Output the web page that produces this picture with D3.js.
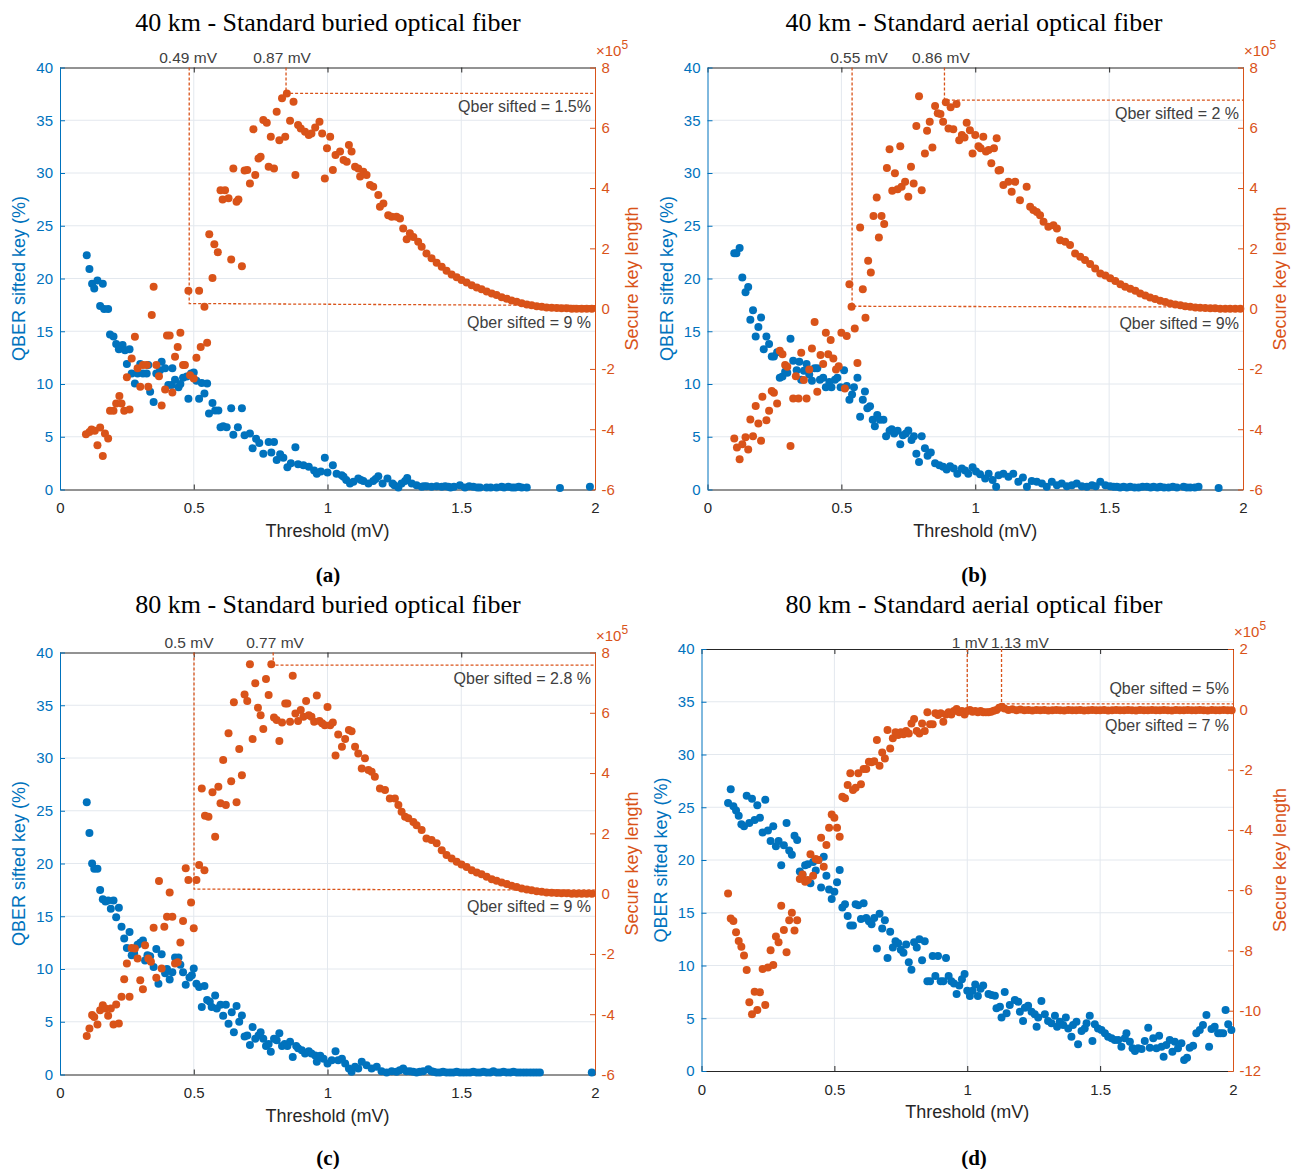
<!DOCTYPE html>
<html lang="en">
<head>
  <meta charset="UTF-8">
  <title>QBER and secure key length vs threshold</title>
  <script src="https://d3js.org/d3.v7.min.js"></script>
  <style>
      body { margin: 0; background: #fff; }
      svg { display: block; }
  </style>
</head>
<body>
<script>
  const blue = "#0072BD", orange = "#D95319", ink = "#262626", note = "#404040", gridCol = "#e3e8ee";
  const sans = "'Liberation Sans', Arial, Helvetica, sans-serif";
  const serif = "'Liberation Serif', 'Times New Roman', serif";

  const titles = [
    "40 km - Standard buried optical fiber",
    "40 km - Standard aerial optical fiber",
    "80 km - Standard buried optical fiber",
    "80 km - Standard aerial optical fiber"
  ];
  const captions = ["(a)", "(b)", "(c)", "(d)"];

  const xTicks = [0, 0.5, 1, 1.5, 2];
  const qberTicks = [0, 5, 10, 15, 20, 25, 30, 35, 40];
  const keyTicks40 = [-6, -4, -2, 0, 2, 4, 6, 8];
  const keyTicksD = [-12, -10, -8, -6, -4, -2, 0, 2];

  // [threshold mV, QBER %]
  const qberA = [[0.10,22.2],[0.11,20.9],[0.12,19.5],[0.128,19.05],[0.14,19.8],[0.16,19.5],[0.15,17.4],[0.165,17.1],[0.18,17.1],[0.187,14.7],[0.20,14.5],[0.21,13.8],[0.22,13.3],[0.234,13.7],[0.243,13.2],[0.26,13.3],[0.25,11.9],[0.268,11.0],[0.28,10.05],[0.29,11.0],[0.30,11.9],[0.31,11.0],[0.324,11.0],[0.33,11.8],[0.337,9.26],[0.35,8.3],[0.36,11.0],[0.374,11.3],[0.38,12.1],[0.393,11.5],[0.405,9.9],[0.418,9.9],[0.42,11.5],[0.43,10.4],[0.443,9.7],[0.45,10.0],[0.46,10.6],[0.474,10.7],[0.48,8.6],[0.49,11.0],[0.50,11.1],[0.51,10.3],[0.52,8.6],[0.53,10.1],[0.54,9.1],[0.55,10.05],[0.557,7.2],[0.57,8.2],[0.58,7.5],[0.592,7.5],[0.60,5.9],[0.61,6.0],[0.623,5.9],[0.64,7.7],[0.648,5.2],[0.665,5.9],[0.68,7.7],[0.69,5.15],[0.71,5.3],[0.72,3.9],[0.733,4.8],[0.745,4.4],[0.76,3.4],[0.78,4.5],[0.79,3.5],[0.80,4.5],[0.81,2.8],[0.823,3.35],[0.835,3.0],[0.85,2.1],[0.863,2.5],[0.88,4.0],[0.89,2.4],[0.91,2.3],[0.93,2.15],[0.95,1.8],[0.96,1.5],[0.975,1.7],[0.99,3.0],[1.0,1.6],[1.02,2.3],[1.034,1.5],[1.053,1.35],[1.06,1.2],[1.07,0.9],[1.084,0.57],[1.097,0.73],[1.115,1.04],[1.125,0.9],[1.134,0.8],[1.153,0.57],[1.171,0.8],[1.18,1.0],[1.19,1.26],[1.206,0.57],[1.224,1.04],[1.243,0.57],[1.25,0.4],[1.265,0.2],[1.277,0.57],[1.29,0.8],[1.298,1.1],[1.315,0.57],[1.333,0.4],[1.352,0.25],[1.36,0.3],[1.37,0.3],[1.389,0.25],[1.408,0.3],[1.427,0.25],[1.44,0.3],[1.452,0.25],[1.46,0.2],[1.473,0.25],[1.495,0.4],[1.514,0.2],[1.53,0.3],[1.545,0.25],[1.56,0.2],[1.57,0.2],[1.595,0.2],[1.61,0.2],[1.632,0.2],[1.651,0.25],[1.66,0.2],[1.676,0.25],[1.69,0.2],[1.701,0.2],[1.715,0.25],[1.726,0.2],[1.745,0.2],[1.869,0.15],[1.981,0.25]];

  // [threshold mV, secure key length x1e5]
  const keyA = [[0.097,-4.17],[0.11,-4.09],[0.118,-4.01],[0.13,-4.05],[0.14,-4.53],[0.15,-3.94],[0.16,-4.89],[0.168,-4.14],[0.18,-4.31],[0.187,-3.39],[0.20,-3.39],[0.21,-3.15],[0.222,-2.90],[0.23,-3.15],[0.24,-3.39],[0.26,-3.35],[0.25,-2.28],[0.268,-1.65],[0.28,-0.93],[0.29,-1.98],[0.30,-2.59],[0.31,-1.87],[0.324,-1.87],[0.33,-2.59],[0.343,-0.21],[0.35,0.73],[0.36,-1.87],[0.37,-2.24],[0.38,-3.21],[0.393,-2.68],[0.40,-0.89],[0.41,-0.89],[0.42,-2.78],[0.43,-1.60],[0.44,-1.27],[0.45,-0.80],[0.46,-1.87],[0.467,-1.87],[0.486,-2.21],[0.50,-2.32],[0.51,-1.63],[0.526,-1.27],[0.55,-1.13],[0.48,0.59],[0.52,0.59],[0.54,0.06],[0.57,1.02],[0.558,2.47],[0.577,2.14],[0.59,1.87],[0.64,1.63],[0.68,1.41],[0.60,3.93],[0.617,3.93],[0.608,3.62],[0.63,3.66],[0.66,3.55],[0.667,3.62],[0.648,4.65],[0.69,4.58],[0.70,4.60],[0.71,4.15],[0.73,4.43],[0.742,4.98],[0.75,5.04],[0.723,5.95],[0.76,6.26],[0.773,6.17],[0.78,4.71],[0.80,4.65],[0.788,5.70],[0.81,6.53],[0.82,5.59],[0.842,5.70],[0.83,6.98],[0.848,7.14],[0.873,6.86],[0.86,6.23],[0.88,4.43],[0.89,6.09],[0.90,5.98],[0.916,5.87],[0.93,5.76],[0.94,5.81],[0.954,6.01],[0.97,6.20],[0.98,5.81],[0.99,4.32],[0.998,5.32],[1.01,5.70],[1.02,4.60],[1.03,5.10],[1.047,5.21],[1.06,4.93],[1.072,4.87],[1.08,5.43],[1.09,5.21],[1.103,4.71],[1.115,4.65],[1.122,4.38],[1.134,4.54],[1.146,4.43],[1.159,4.10],[1.171,4.04],[1.19,3.77],[1.196,3.38],[1.209,3.49],[1.227,3.10],[1.24,3.05],[1.258,3.05],[1.271,2.99],[1.283,2.66],[1.296,2.30],[1.308,2.50],[1.321,2.38],[1.339,2.22],[1.352,2.05],[1.37,1.83],[1.389,1.67],[1.408,1.52],[1.427,1.39],[1.445,1.26],[1.464,1.13],[1.483,1.04],[1.501,0.95],[1.52,0.87],[1.539,0.78],[1.558,0.70],[1.576,0.64],[1.595,0.57],[1.614,0.50],[1.632,0.45],[1.651,0.38],[1.67,0.33],[1.688,0.27],[1.707,0.23],[1.726,0.18],[1.745,0.14],[1.763,0.11],[1.782,0.08],[1.801,0.06],[1.819,0.04],[1.838,0.03],[1.857,0.02],[1.875,0.01],[1.894,0.01],[1.913,0],[1.931,0],[1.95,0],[1.969,0],[1.988,0]];

  const qberB = [[0.10,22.4],[0.108,22.4],[0.12,22.9],[0.13,20.1],[0.142,18.7],[0.152,19.2],[0.16,16.1],[0.17,17.0],[0.18,14.5],[0.19,15.4],[0.20,16.3],[0.21,13.3],[0.22,14.5],[0.23,13.8],[0.24,12.6],[0.248,12.6],[0.26,13.0],[0.27,10.6],[0.28,10.7],[0.29,11.15],[0.298,11.06],[0.31,14.3],[0.32,12.2],[0.333,11.3],[0.343,12.1],[0.35,10.4],[0.36,11.25],[0.37,11.9],[0.38,10.9],[0.39,10.3],[0.40,11.5],[0.41,11.5],[0.42,10.4],[0.432,10.6],[0.442,9.7],[0.455,10.2],[0.463,9.7],[0.476,10.4],[0.485,10.6],[0.497,9.7],[0.51,11.3],[0.52,9.8],[0.53,8.5],[0.54,9.0],[0.547,9.7],[0.56,10.6],[0.57,6.9],[0.58,8.5],[0.588,9.3],[0.597,7.7],[0.607,7.9],[0.617,6.6],[0.625,6.0],[0.634,7.05],[0.644,6.6],[0.657,6.6],[0.667,5.05],[0.68,5.56],[0.688,5.7],[0.697,5.3],[0.71,5.56],[0.72,4.3],[0.73,5.15],[0.741,5.3],[0.75,5.6],[0.762,4.7],[0.771,5.05],[0.78,3.4],[0.79,2.6],[0.80,5.05],[0.812,3.9],[0.822,3.2],[0.834,3.5],[0.85,2.5],[0.866,2.3],[0.88,2.15],[0.893,1.9],[0.906,2.2],[0.92,2.0],[0.933,1.5],[0.95,2.0],[0.962,1.8],[0.974,1.5],[0.99,2.1],[1.003,1.7],[1.018,1.45],[1.037,1.04],[1.05,1.5],[1.065,0.9],[1.078,0.25],[1.087,1.35],[1.105,1.5],[1.124,1.2],[1.142,1.5],[1.161,0.73],[1.178,1.14],[1.193,0.25],[1.211,0.8],[1.23,0.73],[1.249,0.57],[1.267,0.25],[1.286,0.73],[1.305,0.4],[1.323,0.57],[1.342,0.3],[1.361,0.4],[1.379,0.57],[1.398,0.3],[1.417,0.25],[1.436,0.4],[1.45,0.3],[1.467,0.73],[1.486,0.4],[1.504,0.3],[1.517,0.25],[1.529,0.25],[1.541,0.2],[1.554,0.25],[1.566,0.2],[1.579,0.25],[1.595,0.2],[1.61,0.2],[1.625,0.25],[1.641,0.25],[1.655,0.2],[1.666,0.25],[1.68,0.2],[1.691,0.25],[1.705,0.2],[1.722,0.2],[1.738,0.25],[1.753,0.2],[1.778,0.25],[1.79,0.2],[1.803,0.2],[1.82,0.2],[1.834,0.25],[1.909,0.15]];

  const keyB = [[0.10,-4.31],[0.11,-4.61],[0.12,-5.0],[0.13,-4.5],[0.142,-4.27],[0.152,-4.67],[0.17,-4.23],[0.20,-4.38],[0.16,-3.68],[0.18,-3.23],[0.19,-3.81],[0.205,-2.92],[0.22,-3.70],[0.23,-3.39],[0.24,-2.73],[0.248,-2.79],[0.26,-3.15],[0.27,-1.40],[0.28,-1.51],[0.29,-1.87],[0.298,-1.93],[0.31,-4.56],[0.32,-2.98],[0.33,-2.24],[0.34,-2.98],[0.35,-1.46],[0.36,-2.37],[0.37,-2.98],[0.38,-2.02],[0.39,-1.32],[0.40,-0.44],[0.41,-2.76],[0.422,-1.54],[0.432,-1.84],[0.442,-0.80],[0.451,-1.51],[0.46,-1.04],[0.47,-1.65],[0.48,-2.02],[0.49,-1.91],[0.50,-0.80],[0.513,-2.65],[0.52,-0.91],[0.538,0.06],[0.53,0.81],[0.55,-0.66],[0.56,-1.80],[0.57,2.69],[0.58,0.64],[0.59,-0.30],[0.60,1.59],[0.61,1.20],[0.62,3.07],[0.632,3.69],[0.64,2.36],[0.65,3.07],[0.66,2.81],[0.67,4.67],[0.68,5.29],[0.69,3.91],[0.70,4.49],[0.71,3.96],[0.72,5.39],[0.725,4.04],[0.738,4.21],[0.75,3.71],[0.76,4.71],[0.77,4.15],[0.78,6.06],[0.79,7.05],[0.80,3.93],[0.812,5.15],[0.82,5.90],[0.83,6.20],[0.84,5.35],[0.85,6.72],[0.86,6.48],[0.87,6.46],[0.88,6.20],[0.89,6.85],[0.90,5.98],[0.908,6.68],[0.918,5.95],[0.93,6.79],[0.94,5.59],[0.95,5.76],[0.96,5.68],[0.968,6.17],[0.98,5.92],[0.99,5.15],[1.0,5.76],[1.012,5.39],[1.02,5.32],[1.03,5.70],[1.04,5.21],[1.05,5.26],[1.06,4.82],[1.07,5.32],[1.08,5.65],[1.087,4.58],[1.093,4.60],[1.105,4.10],[1.124,4.21],[1.136,3.88],[1.149,4.21],[1.167,3.60],[1.192,4.04],[1.205,3.38],[1.217,3.27],[1.23,3.21],[1.242,3.10],[1.255,2.88],[1.273,2.72],[1.292,2.77],[1.305,2.66],[1.317,2.27],[1.336,2.22],[1.354,2.11],[1.373,1.83],[1.392,1.72],[1.41,1.61],[1.429,1.48],[1.448,1.33],[1.467,1.17],[1.486,1.10],[1.504,1.01],[1.523,0.92],[1.542,0.81],[1.56,0.73],[1.579,0.66],[1.598,0.59],[1.616,0.50],[1.635,0.44],[1.653,0.37],[1.672,0.32],[1.691,0.26],[1.71,0.22],[1.728,0.17],[1.747,0.14],[1.766,0.11],[1.784,0.08],[1.803,0.06],[1.822,0.04],[1.84,0.03],[1.859,0.02],[1.878,0.01],[1.896,0.01],[1.915,0],[1.934,0],[1.952,0],[1.971,0],[1.99,0]];

  const qberC = [[0.10,25.8],[0.11,22.9],[0.12,20.0],[0.128,19.5],[0.14,19.5],[0.15,17.5],[0.16,16.6],[0.17,16.4],[0.18,16.5],[0.19,15.7],[0.20,16.5],[0.21,14.9],[0.22,15.8],[0.23,14.0],[0.24,12.9],[0.25,12.0],[0.26,13.5],[0.268,11.3],[0.277,11.5],[0.29,12.3],[0.30,12.5],[0.31,12.7],[0.318,10.8],[0.327,11.3],[0.337,11.2],[0.35,10.2],[0.36,11.9],[0.368,8.6],[0.38,11.4],[0.393,9.6],[0.40,10.0],[0.41,9.0],[0.42,9.7],[0.43,11.1],[0.443,11.1],[0.45,10.4],[0.46,9.7],[0.47,8.5],[0.484,9.2],[0.493,9.4],[0.50,10.05],[0.51,8.6],[0.52,8.3],[0.54,8.4],[0.53,6.4],[0.55,7.05],[0.56,6.9],[0.58,7.5],[0.567,6.4],[0.586,6.25],[0.60,6.6],[0.61,5.56],[0.62,6.6],[0.63,4.8],[0.642,5.9],[0.65,4.0],[0.66,6.5],[0.67,5.0],[0.68,5.6],[0.69,3.6],[0.70,3.7],[0.71,2.8],[0.72,4.5],[0.73,3.4],[0.742,3.7],[0.75,4.0],[0.76,3.4],[0.77,2.7],[0.78,2.9],[0.788,2.15],[0.80,3.4],[0.81,3.25],[0.82,3.9],[0.83,2.7],[0.84,2.9],[0.85,2.7],[0.86,3.1],[0.87,1.67],[0.883,2.7],[0.89,2.5],[0.904,2.3],[0.916,2.0],[0.93,2.2],[0.94,2.0],[0.954,1.8],[0.96,1.2],[0.973,1.77],[0.985,1.5],[1.0,1.04],[1.016,1.35],[1.03,2.2],[1.04,1.35],[1.054,1.5],[1.066,1.04],[1.08,0.57],[1.09,0.25],[1.103,0.73],[1.115,0.57],[1.128,1.2],[1.146,0.88],[1.165,0.57],[1.184,0.73],[1.202,0.3],[1.221,0.2],[1.24,0.3],[1.258,0.25],[1.27,0.4],[1.283,0.57],[1.295,0.3],[1.308,0.3],[1.32,0.25],[1.333,0.2],[1.345,0.25],[1.358,0.3],[1.377,0.5],[1.388,0.3],[1.396,0.25],[1.408,0.2],[1.42,0.2],[1.432,0.25],[1.445,0.2],[1.458,0.2],[1.47,0.2],[1.483,0.25],[1.495,0.2],[1.508,0.2],[1.52,0.2],[1.533,0.2],[1.545,0.25],[1.558,0.2],[1.57,0.2],[1.583,0.25],[1.595,0.2],[1.608,0.2],[1.62,0.3],[1.633,0.2],[1.645,0.2],[1.658,0.25],[1.67,0.2],[1.683,0.2],[1.695,0.25],[1.708,0.2],[1.72,0.2],[1.733,0.2],[1.745,0.2],[1.758,0.2],[1.77,0.2],[1.782,0.2],[1.794,0.2],[1.988,0.2]];

  const keyC = [[0.10,-4.72],[0.11,-4.47],[0.12,-4.03],[0.128,-4.09],[0.14,-4.34],[0.15,-3.87],[0.16,-3.70],[0.17,-3.81],[0.18,-4.05],[0.19,-3.81],[0.20,-4.34],[0.21,-3.68],[0.22,-4.31],[0.23,-3.42],[0.24,-2.84],[0.25,-2.32],[0.26,-3.42],[0.268,-1.80],[0.28,-1.82],[0.29,-2.15],[0.30,-2.87],[0.31,-3.17],[0.318,-1.71],[0.33,-2.15],[0.34,-2.26],[0.35,-1.13],[0.36,-2.79],[0.37,0.42],[0.38,-2.48],[0.39,-1.10],[0.40,-0.77],[0.41,0.04],[0.42,-0.77],[0.43,-2.32],[0.44,-2.28],[0.45,-1.62],[0.46,-0.91],[0.47,0.84],[0.48,0.45],[0.49,-0.29],[0.50,-1.15],[0.51,0.45],[0.52,0.95],[0.54,0.78],[0.53,3.49],[0.542,2.58],[0.555,2.55],[0.57,3.36],[0.58,1.89],[0.592,3.55],[0.60,3.0],[0.61,4.43],[0.62,2.94],[0.63,5.32],[0.64,3.73],[0.65,6.35],[0.66,3.03],[0.67,4.80],[0.68,3.93],[0.69,6.61],[0.70,6.39],[0.71,7.61],[0.72,5.13],[0.73,6.98],[0.74,6.17],[0.75,5.92],[0.76,5.46],[0.77,7.12],[0.78,6.59],[0.79,7.61],[0.80,5.84],[0.81,5.76],[0.82,5.06],[0.83,5.68],[0.842,6.31],[0.85,6.31],[0.86,5.70],[0.87,7.23],[0.88,5.98],[0.89,5.73],[0.90,6.09],[0.91,5.87],[0.92,6.39],[0.93,5.92],[0.94,5.87],[0.95,5.70],[0.96,6.57],[0.97,5.73],[0.98,5.65],[0.99,5.59],[1.0,6.19],[1.01,5.59],[1.02,5.68],[1.03,4.58],[1.04,5.28],[1.054,4.87],[1.066,5.13],[1.08,5.43],[1.09,5.39],[1.103,4.87],[1.115,4.65],[1.128,4.15],[1.14,4.49],[1.153,4.10],[1.165,4.04],[1.177,3.88],[1.196,3.49],[1.215,3.44],[1.233,3.16],[1.252,3.16],[1.265,2.94],[1.277,2.72],[1.29,2.55],[1.302,2.50],[1.321,2.38],[1.333,2.27],[1.352,2.11],[1.37,1.83],[1.389,1.78],[1.408,1.67],[1.427,1.44],[1.445,1.28],[1.464,1.17],[1.483,1.06],[1.501,0.97],[1.52,0.88],[1.539,0.78],[1.558,0.70],[1.576,0.64],[1.595,0.56],[1.614,0.48],[1.632,0.43],[1.651,0.37],[1.67,0.32],[1.688,0.26],[1.707,0.22],[1.726,0.17],[1.745,0.14],[1.763,0.11],[1.782,0.08],[1.801,0.06],[1.819,0.04],[1.838,0.03],[1.857,0.02],[1.875,0.01],[1.894,0.01],[1.913,0],[1.931,0],[1.95,0],[1.969,0],[1.988,0]];

  const qberD = [[0.10,25.4],[0.11,26.7],[0.12,25.1],[0.13,24.7],[0.14,24.2],[0.15,23.4],[0.16,23.2],[0.17,26.1],[0.18,23.5],[0.19,25.8],[0.20,23.8],[0.21,25.2],[0.22,24.0],[0.23,22.6],[0.24,25.7],[0.25,22.8],[0.26,21.8],[0.27,23.2],[0.28,21.3],[0.29,21.8],[0.30,19.5],[0.31,21.4],[0.32,23.5],[0.33,20.9],[0.34,20.5],[0.35,22.3],[0.36,21.9],[0.37,18.9],[0.38,18.6],[0.39,19.5],[0.40,19.6],[0.41,17.8],[0.42,19.8],[0.43,19.0],[0.44,20.0],[0.45,17.4],[0.46,20.3],[0.47,18.5],[0.48,17.2],[0.49,16.3],[0.50,17.0],[0.51,17.9],[0.52,19.05],[0.53,15.5],[0.54,15.8],[0.55,14.7],[0.56,13.8],[0.57,13.8],[0.58,15.8],[0.59,15.7],[0.60,14.4],[0.61,15.9],[0.62,14.5],[0.63,14.2],[0.64,13.9],[0.65,14.5],[0.66,11.6],[0.67,14.9],[0.68,13.5],[0.69,14.3],[0.70,10.7],[0.71,13.2],[0.72,11.7],[0.73,12.3],[0.74,12.1],[0.75,11.5],[0.76,11.2],[0.77,12.0],[0.78,10.3],[0.79,9.6],[0.80,12.2],[0.81,11.7],[0.82,12.5],[0.83,10.5],[0.84,12.3],[0.85,8.5],[0.86,8.5],[0.87,10.9],[0.88,9.0],[0.89,10.9],[0.90,8.5],[0.91,8.5],[0.92,10.7],[0.93,9.0],[0.94,8.5],[0.95,8.3],[0.96,7.3],[0.97,8.1],[0.98,8.7],[0.99,9.2],[1.0,7.6],[1.01,7.1],[1.02,7.6],[1.03,8.2],[1.04,7.1],[1.05,7.8],[1.06,8.1],[1.08,7.3],[1.091,7.2],[1.104,7.14],[1.11,5.94],[1.123,6.1],[1.129,5.06],[1.141,7.5],[1.148,5.47],[1.16,6.26],[1.179,6.73],[1.192,6.57],[1.198,5.62],[1.21,4.74],[1.217,6.0],[1.229,6.19],[1.242,5.62],[1.254,5.37],[1.261,4.2],[1.267,5.06],[1.279,6.63],[1.292,5.37],[1.304,4.74],[1.317,4.52],[1.33,5.24],[1.338,4.2],[1.348,4.68],[1.361,4.36],[1.371,5.06],[1.38,4.04],[1.392,3.25],[1.398,4.36],[1.411,4.68],[1.417,2.53],[1.43,3.79],[1.442,4.04],[1.449,4.52],[1.461,5.24],[1.471,2.84],[1.48,4.42],[1.492,4.04],[1.505,3.89],[1.518,3.57],[1.53,3.25],[1.543,3.1],[1.555,2.94],[1.568,2.94],[1.58,2.31],[1.593,3.1],[1.599,3.57],[1.612,2.78],[1.622,2.15],[1.631,1.9],[1.643,2.15],[1.656,2.09],[1.668,2.84],[1.681,4.11],[1.687,2.21],[1.7,3.1],[1.712,2.15],[1.722,3.35],[1.731,2.31],[1.739,1.36],[1.749,2.46],[1.762,2.94],[1.772,1.83],[1.781,2.78],[1.793,2.15],[1.806,2.62],[1.816,1.04],[1.827,1.26],[1.837,2.21],[1.85,2.4],[1.862,3.57],[1.875,3.89],[1.887,4.36],[1.9,5.31],[1.91,2.31],[1.919,3.98],[1.931,4.2],[1.944,3.57],[1.953,3.57],[1.963,3.57],[1.972,5.78],[1.982,4.42],[1.994,3.89]];

  const keyD = [[0.10,-6.11],[0.11,-6.94],[0.12,-7.02],[0.13,-7.40],[0.14,-7.69],[0.15,-7.88],[0.16,-8.17],[0.17,-8.65],[0.18,-9.72],[0.19,-10.12],[0.20,-9.37],[0.21,-9.98],[0.22,-9.39],[0.23,-8.62],[0.24,-9.81],[0.25,-8.57],[0.26,-7.99],[0.27,-8.48],[0.28,-7.54],[0.29,-7.73],[0.30,-6.52],[0.31,-7.32],[0.32,-8.06],[0.33,-7.0],[0.34,-6.75],[0.35,-7.34],[0.36,-7.0],[0.37,-5.63],[0.38,-5.48],[0.39,-5.72],[0.40,-5.66],[0.41,-4.81],[0.42,-5.52],[0.43,-4.97],[0.44,-5.0],[0.45,-4.26],[0.46,-5.22],[0.47,-4.50],[0.48,-3.93],[0.49,-3.49],[0.50,-3.60],[0.51,-3.93],[0.52,-4.23],[0.53,-2.90],[0.54,-2.95],[0.55,-2.51],[0.56,-2.12],[0.57,-2.68],[0.58,-2.60],[0.59,-2.12],[0.60,-2.49],[0.61,-1.98],[0.62,-1.98],[0.63,-1.74],[0.64,-1.76],[0.65,-1.72],[0.66,-1.02],[0.67,-1.87],[0.68,-1.43],[0.69,-1.63],[0.70,-0.69],[0.71,-1.30],[0.72,-0.96],[0.73,-0.76],[0.74,-0.85],[0.75,-0.76],[0.76,-0.83],[0.77,-0.72],[0.78,-0.80],[0.79,-0.47],[0.80,-0.32],[0.81,-0.72],[0.82,-0.80],[0.83,-0.47],[0.84,-0.72],[0.85,-0.10],[0.86,-0.50],[0.87,-0.50],[0.88,-0.13],[0.89,-0.19],[0.90,-0.13],[0.91,-0.41],[0.92,-0.17],[0.93,-0.10],[0.94,-0.17],[0.95,-0.06],[0.96,0.01],[0.97,-0.10],[0.98,-0.06],[0.99,-0.17],[1.00,-0.06],[1.01,-0.02],[1.02,-0.08],[1.03,-0.06],[1.04,-0.10],[1.05,-0.06],[1.06,-0.10],[1.07,-0.10],[1.08,-0.10],[1.09,-0.08],[1.10,-0.05],[1.11,-0.02],[1.12,0.05],[1.13,0.08],[1.14,0.03],[1.155,-0.02],[1.17,0.0],[1.185,-0.03],[1.2,-0.01],[1.215,-0.03],[1.23,-0.02],[1.245,-0.04],[1.26,-0.02],[1.275,-0.03],[1.29,-0.02],[1.305,-0.04],[1.32,-0.03],[1.335,-0.02],[1.35,-0.03],[1.365,-0.04],[1.38,-0.02],[1.395,-0.03],[1.41,-0.03],[1.425,-0.02],[1.44,-0.04],[1.455,-0.03],[1.47,-0.02],[1.485,-0.03],[1.5,-0.03],[1.515,-0.02],[1.53,-0.04],[1.545,-0.03],[1.56,-0.02],[1.575,-0.03],[1.59,-0.03],[1.605,-0.02],[1.62,-0.03],[1.635,-0.04],[1.65,-0.02],[1.665,-0.03],[1.68,-0.03],[1.695,-0.02],[1.71,-0.03],[1.725,-0.03],[1.74,-0.02],[1.755,-0.03],[1.77,-0.04],[1.785,-0.02],[1.8,-0.03],[1.815,-0.03],[1.83,-0.02],[1.845,-0.03],[1.86,-0.03],[1.875,-0.02],[1.89,-0.03],[1.905,-0.04],[1.92,-0.02],[1.935,-0.03],[1.95,-0.03],[1.965,-0.02],[1.98,-0.03],[1.995,-0.03]];

  // threshold markers: vertical dashed lines and the secure key levels they point to
  const marksA = {lowX: 0.483, lowLevel: [0.17, 0.10], lowLabel: "0.49 mV", lowLabelX: 0.479, lowText: "Qber sifted = 9 %",
                  highX: 0.845, highLevel: 7.14, highLabel: "0.87 mV", highLabelX: 0.83, highText: "Qber sifted = 1.5%"};
  const marksB = {lowX: 0.54, lowLevel: [0.08, 0.05], lowLabel: "0.55 mV", lowLabelX: 0.566, lowText: "Qber sifted = 9%",
                  highX: 0.885, highLevel: 6.92, highLabel: "0.86 mV", highLabelX: 0.872, highText: "Qber sifted = 2 %"};
  const marksC = {lowX: 0.501, lowLevel: [0.15, 0.12], lowLabel: "0.5 mV", lowLabelX: 0.482, lowText: "Qber sifted = 9 %",
                  highX: 0.797, highLevel: 7.58, highLabel: "0.77 mV", highLabelX: 0.804, highText: "Qber sifted = 2.8 %"};
  const marksD = {lowX: 1.0, lowLevel: [0.0, 0.0], lowLabel: "1 mV", lowLabelX: 1.01, lowText: "Qber sifted = 7 %",
                  highX: 1.129, highLevel: 0.18, highLabel: "1.13 mV", highLabelX: 1.198, highText: "Qber sifted = 5%", highAbove: true};

  const panels = [
    {title: titles[0], caption: captions[0], qber: qberA, key: keyA, keyTicks: keyTicks40, marks: marksA,
     left: 60, right: 595, top: 67.5, bottom: 489.5, cx: 328, titleY: 31, capY: 582, rLab: 43, noteOff: 4.5},
    {title: titles[1], caption: captions[1], qber: qberB, key: keyB, keyTicks: keyTicks40, marks: marksB,
     left: 707.5, right: 1243, top: 67.5, bottom: 489.5, cx: 974, titleY: 31, capY: 582, rLab: 43, noteOff: 4.5},
    {title: titles[2], caption: captions[2], qber: qberC, key: keyC, keyTicks: keyTicks40, marks: marksC,
     left: 60, right: 595, top: 652.5, bottom: 1074.5, cx: 328, titleY: 613, capY: 1165, rLab: 43, noteOff: 4.5},
    {title: titles[3], caption: captions[3], qber: qberD, key: keyD, keyTicks: keyTicksD, marks: marksD,
     left: 701.5, right: 1233, top: 649, bottom: 1071, cx: 974, titleY: 613, capY: 1165, rLab: 53, noteOff: 1}
  ];

  const svg = d3.select("body").append("svg").attr("width", 1301).attr("height", 1169);

  function styleAxis(sel, color) {
    sel.attr("font-family", sans).attr("font-size", 15);
    sel.select(".domain").attr("stroke", color);
    sel.selectAll(".tick line").attr("stroke", color);
    sel.selectAll(".tick text").attr("fill", color);
  }

  function drawPanel(p) {
    const x = d3.scaleLinear().domain([0, 2]).range([p.left, p.right]);
    const yL = d3.scaleLinear().domain([0, 40]).range([p.bottom, p.top]);
    const yR = d3.scaleLinear().domain(d3.extent(p.keyTicks)).range([p.bottom, p.top]);
    const g = svg.append("g");

    // grid
    g.append("g").selectAll("line").data(xTicks.slice(1, -1)).join("line")
      .attr("x1", d => x(d)).attr("x2", d => x(d)).attr("y1", p.top).attr("y2", p.bottom)
      .attr("stroke", gridCol);
    g.append("g").selectAll("line").data(qberTicks.slice(1, -1)).join("line")
      .attr("x1", p.left).attr("x2", p.right).attr("y1", d => yL(d)).attr("y2", d => yL(d))
      .attr("stroke", gridCol);

    // axes, ticks inside like MATLAB
    const fmt = d => String(d);
    g.append("g").attr("transform", `translate(0,${p.bottom})`)
      .call(d3.axisBottom(x).tickValues(xTicks).tickSize(-5).tickSizeOuter(0).tickPadding(13).tickFormat(fmt))
      .call(s => styleAxis(s, ink));
    g.append("g").attr("transform", `translate(0,${p.top})`)
      .call(d3.axisTop(x).tickValues(xTicks).tickSize(-5).tickSizeOuter(0).tickFormat(""))
      .call(s => styleAxis(s, ink));
    g.append("g").attr("transform", `translate(${p.left},0)`)
      .call(d3.axisLeft(yL).tickValues(qberTicks).tickSize(-5).tickSizeOuter(0).tickPadding(7).tickFormat(fmt))
      .call(s => styleAxis(s, blue));
    g.append("g").attr("transform", `translate(${p.right},0)`)
      .call(d3.axisRight(yR).tickValues(p.keyTicks).tickSize(-5).tickSizeOuter(0).tickPadding(6.5).tickFormat(fmt))
      .call(s => styleAxis(s, orange));

    // points
    g.append("g").selectAll("circle").data(p.qber).join("circle")
      .attr("cx", d => x(d[0])).attr("cy", d => yL(d[1])).attr("r", 4).attr("fill", blue);
    g.append("g").selectAll("circle").data(p.key).join("circle")
      .attr("cx", d => x(d[0])).attr("cy", d => yR(d[1])).attr("r", 4).attr("fill", orange);

    // threshold markers
    const m = p.marks;
    const dashed = sel => sel.attr("fill", "none").attr("stroke", orange).attr("stroke-width", 1.3).attr("stroke-dasharray", "3,2");
    g.append("path")
      .attr("d", `M${x(m.lowX)},${p.top}V${yR(m.lowLevel[0])}L${x(2)},${yR(m.lowLevel[1])}`)
      .call(dashed);
    g.append("path")
      .attr("d", `M${x(m.highX)},${p.top}V${yR(m.highLevel)}H${x(2)}`)
      .call(dashed);

    const notes = g.append("g").attr("font-family", sans).attr("fill", note);
    notes.append("text").attr("x", x(m.lowLabelX)).attr("y", p.top - p.noteOff)
      .attr("text-anchor", "middle").attr("font-size", 15.5).text(m.lowLabel);
    notes.append("text").attr("x", x(m.highLabelX)).attr("y", p.top - p.noteOff)
      .attr("text-anchor", "middle").attr("font-size", 15.5).text(m.highLabel);
    notes.append("text").attr("x", p.right - 4)
      .attr("y", yR(m.highLevel) + (m.highAbove ? -9.5 : 19))
      .attr("text-anchor", "end").attr("font-size", 16).text(m.highText);
    notes.append("text").attr("x", p.right - 4).attr("y", yR(m.lowLevel[1]) + 22)
      .attr("text-anchor", "end").attr("font-size", 16).text(m.lowText);

    // exponent over right axis
    const ex = g.append("text").attr("x", p.right + 1).attr("y", p.top - 12)
      .attr("font-family", sans).attr("font-size", 15).attr("fill", orange);
    ex.append("tspan").text("\u00d710");
    ex.append("tspan").attr("dy", -7).attr("font-size", 12).text("5");

    // axis labels
    g.append("text").attr("x", (p.left + p.right) / 2).attr("y", p.bottom + 47)
      .attr("text-anchor", "middle").attr("font-family", sans).attr("font-size", 18).attr("fill", ink)
      .text("Threshold (mV)");
    const mid = (p.top + p.bottom) / 2;
    g.append("text").attr("transform", `translate(${p.left - 35},${mid}) rotate(-90)`)
      .attr("text-anchor", "middle").attr("font-family", sans).attr("font-size", 18).attr("fill", blue)
      .text("QBER sifted key (%)");
    g.append("text").attr("transform", `translate(${p.right + p.rLab},${mid}) rotate(-90)`)
      .attr("text-anchor", "middle").attr("font-family", sans).attr("font-size", 18).attr("fill", orange)
      .text("Secure key length");

    // title and caption
    g.append("text").attr("x", p.cx).attr("y", p.titleY).attr("text-anchor", "middle")
      .attr("font-family", serif).attr("font-size", 26).attr("fill", "#000").text(p.title);
    g.append("text").attr("x", p.cx).attr("y", p.capY).attr("text-anchor", "middle")
      .attr("font-family", serif).attr("font-size", 21).attr("font-weight", "bold").attr("fill", "#000").text(p.caption);
  }

  panels.forEach(drawPanel);
</script>
</body>
</html>
